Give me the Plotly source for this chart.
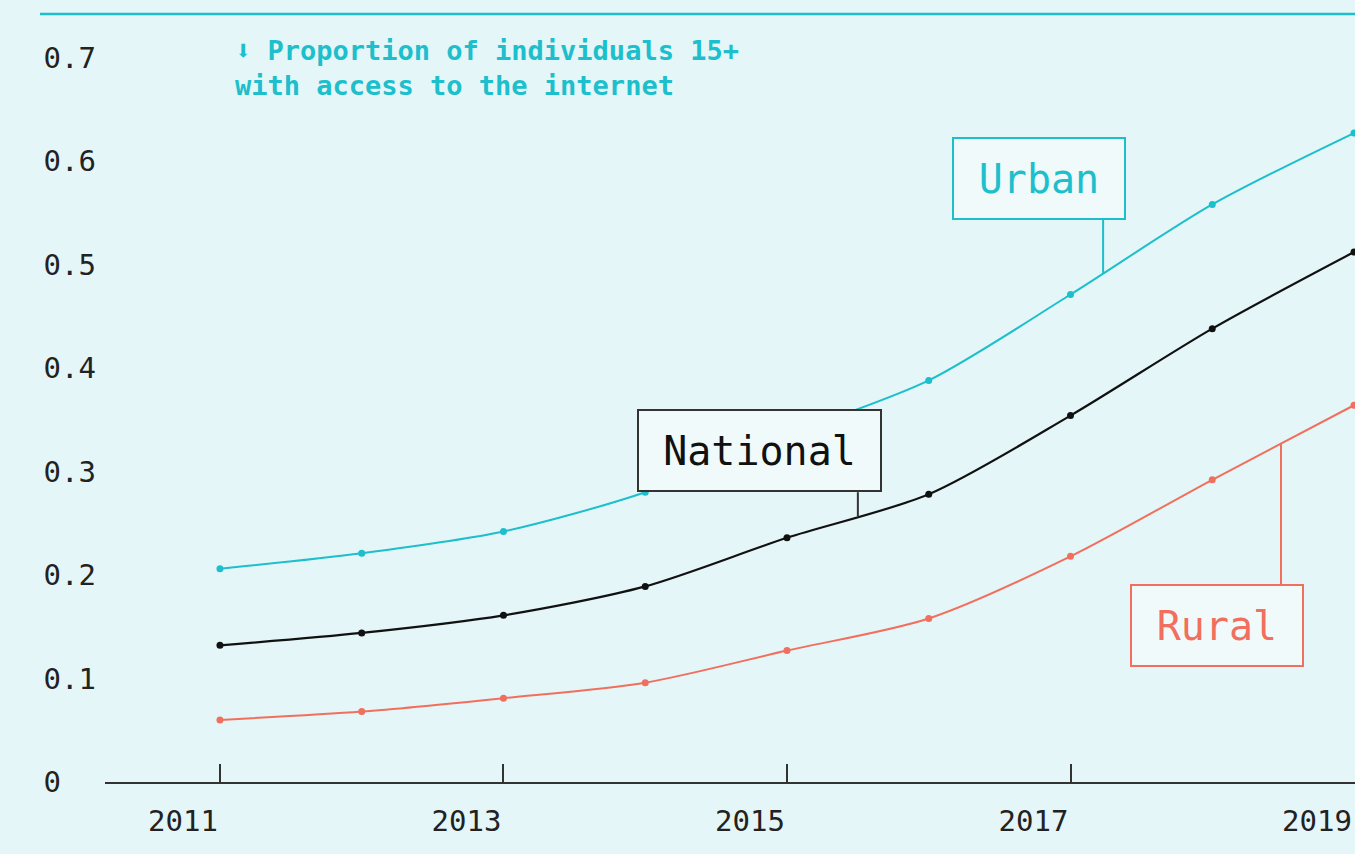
import numpy as np
import plotly.graph_objects as go

years = [2011, 2012, 2013, 2014, 2015, 2016, 2017, 2018, 2019]
urban = [0.206, 0.221, 0.242, 0.280, 0.335, 0.388, 0.471, 0.558, 0.627]
national = [0.132, 0.144, 0.161, 0.189, 0.236, 0.278, 0.354, 0.438, 0.512]
rural = [0.060, 0.068, 0.081, 0.096, 0.127, 0.158, 0.218, 0.292, 0.364]

y_ticks = [0, 0.1, 0.2, 0.3, 0.4, 0.5, 0.6, 0.7]
y_ticktext = ["0\u00a0\u00a0", "0.1", "0.2", "0.3", "0.4", "0.5", "0.6", "0.7"]
x_ticks = [2011, 2013, 2015, 2017, 2019]
x_ticktext = ["2011", "2013", "2015", "2017", "2019"]

title_text = "⬇ Proportion of individuals 15+<br>with access to the internet"

CYAN = "#1cbfcb"
SALMON = "#f26f5d"
BLACK = "#111111"
BG = "#e4f6f8"
BOXBG = "#f1fafb"
MONO = "DejaVu Sans Mono, Liberation Mono, monospace"

fig = go.Figure()
series = [("Urban", urban, CYAN, 2), ("National", national, BLACK, 2.2), ("Rural", rural, SALMON, 2)]
for name, vals, col, w in series:
    fig.add_trace(go.Scatter(
        x=years, y=vals, name=name, mode="lines+markers",
        line=dict(color=col, width=w, shape="spline", smoothing=0.8),
        marker=dict(color=col, size=7),
        showlegend=False, cliponaxis=False,
    ))

# label boxes: (text, series, color, box center x, box center y, connector x, box width, connector side)
labels = [
    ("Urban", urban, CYAN, 2016.78, 0.583, 2017.23, 170, "bottom"),
    ("National", national, "#333333", 2014.805, 0.320, 2015.50, 241, "bottom"),
    ("Rural", rural, SALMON, 2018.03, 0.151, 2018.485, 170, "top"),
]
box_half_h = 0.040
for text, vals, col, bx, by, cx, bw, side in labels:
    y_line = float(np.interp(cx, years, vals))
    y_box = by - box_half_h if side == "bottom" else by + box_half_h
    fig.add_shape(type="line", x0=cx, x1=cx, y0=y_box, y1=y_line,
                  line=dict(color=col, width=2), layer="above")
    fig.add_annotation(
        x=bx, y=by, xref="x", yref="y", text=text, showarrow=False,
        font=dict(family=MONO, size=40, color=(BLACK if text == "National" else col)),
        bgcolor=BOXBG, bordercolor=col, borderwidth=2, borderpad=0,
        width=bw, height=79, xanchor="center", yanchor="middle",
    )

fig.add_annotation(
    x=0.1024, y=0.975, xref="paper", yref="paper", text=title_text,
    showarrow=False, xanchor="left", yanchor="top", align="left",
    font=dict(family=MONO, size=27, color=CYAN, weight="bold"),
)

fig.add_shape(type="line", xref="paper", yref="paper", x0=-0.052, x1=1.0, y0=1, y1=1,
              line=dict(color=CYAN, width=2.5))

fig.update_layout(
    width=1355, height=854,
    margin=dict(l=105, r=0, t=14, b=72),
    paper_bgcolor=BG, plot_bgcolor=BG,
    font=dict(family=MONO, color="#222222"),
    xaxis=dict(
        range=[2010.189, 2019.007], tickmode="array", tickvals=x_ticks, ticktext=x_ticktext,
        showgrid=False, zeroline=False, showline=True, linecolor="#333333", linewidth=2,
        ticks="inside", ticklen=18, tickwidth=2, tickcolor="#333333",
        tickfont=dict(family=MONO, size=29, color="#222222"),
        ticklabelshift=-37, ticklabelstandoff=12,
    ),
    yaxis=dict(
        range=[0, 0.742], tickmode="array", tickvals=y_ticks, ticktext=y_ticktext,
        showgrid=False, zeroline=False, showline=False, ticks="",
        tickfont=dict(family=MONO, size=29, color="#222222"),
        ticklabelstandoff=8,
    ),
)

fig.write_html(
    "out.html",
    config={"displayModeBar": False},
    post_script="document.body.style.margin='0';document.body.style.background='%s';" % BG,
)
